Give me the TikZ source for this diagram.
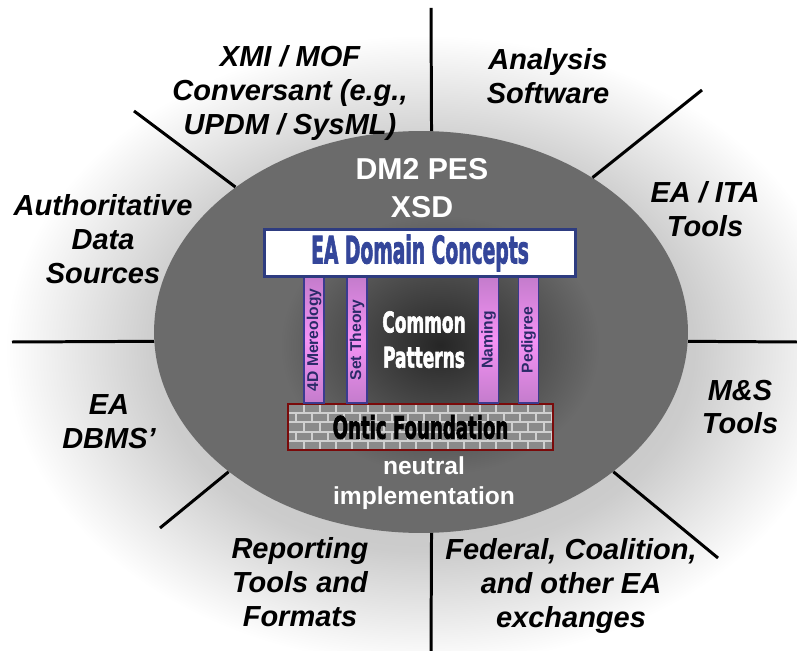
\documentclass[tikz,border=0pt]{standalone}
\usepackage{graphicx}
\usepackage{fontspec}
\setmainfont{Liberation Sans}
\newfontfamily\condfont{DejaVu Sans Condensed}[FakeBold=2.5]
\usepackage{tikz}
\usetikzlibrary{shapes.geometric,positioning,calc}

\definecolor{coregray}{HTML}{6B6B6B}
\definecolor{coredark}{HTML}{262626}
\definecolor{domainblue}{HTML}{2E3C80}
\definecolor{domaintext}{HTML}{34469A}
\definecolor{pillarpink}{HTML}{F592F5}
\definecolor{pillarmauve}{HTML}{C47CCC}
\definecolor{pillarline}{HTML}{3B3B8F}
\definecolor{pillartext}{HTML}{2A2A68}
\definecolor{onticred}{HTML}{7A0A0A}
\definecolor{brickgray}{HTML}{8A8A8A}
\definecolor{mortargray}{HTML}{D0D0D0}

\pgfdeclareradialshading{halo}{\pgfpoint{0bp}{0bp}}{color(0bp)=(gray!55); color(16bp)=(gray!40); color(25bp)=(white); color(50bp)=(white)}

\newcommand{\narrowtext}[3]{\scalebox{#1}[#2]{#3}}

\begin{document}
\begin{tikzpicture}[x=0.02cm, y=-0.02cm,
    spoke/.style={line width=1.7pt},
    outer/.style={align=center, font=\fontsize{16.5}{19.3}\selectfont\bfseries\itshape},
    core/.style={ellipse, fill=coregray, minimum width=10.68cm, minimum height=8.04cm, inner sep=0pt},
    coretext/.style={align=center, text=white, font=\bfseries\fontsize{17.2}{21.6}\selectfont},
    domainbox/.style={draw=domainblue, line width=1.7pt, fill=white, minimum width=6.22cm, minimum height=0.94cm, inner sep=0pt, text=domaintext, font=\condfont\bfseries\fontsize{16}{16}\selectfont},
    onticbox/.style={draw=onticred, line width=1.5pt, minimum width=5.3cm, minimum height=0.92cm, inner sep=0pt, font=\condfont\bfseries\fontsize{13.5}{13.5}\selectfont},
    pillar/.style={draw=pillarline, line width=0.6pt, minimum width=0.4cm, minimum height=2.52cm, inner sep=0pt, top color=pillarmauve, bottom color=pillarmauve, middle color=pillarpink, text=pillartext, font=\bfseries\fontsize{8.9}{8.9}\selectfont},
    mortar/.style={draw=mortargray, line width=1.2pt}]

    \useasboundingbox (0,0) rectangle (797,651);

    %glow
    \shade[shading=halo] (425,350) ellipse (420 and 315);

    %coordinates
    \coordinate (pTop)   at (431,8);
    \coordinate (pUR)    at (702,90);
    \coordinate (pRight) at (797,342);
    \coordinate (pLR)    at (718,558);
    \coordinate (pBot)   at (431,651);
    \coordinate (pLL)    at (160,528);
    \coordinate (pLeft)  at (12,342);
    \coordinate (pUL)    at (134,111);

    %nodes
    \node[core] (core) at (421,332) {};
    \shade[inner color=coredark, outer color=coregray] (440,345) ellipse (160 and 130);

    \node[coretext] (dm2) at (422,188) {DM2 PES\\XSD};

    \begin{scope}
        \clip (288,404) rectangle (553,450);
        \fill[brickgray] (288,404) rectangle (553,450);
        \foreach \r in {0,...,4} {
            \draw[mortar] (288,{404+\r*9.2}) -- ++(265,0);
            \foreach \c in {0,...,17}
                \draw[mortar] ({288+\c*16-mod(\r,2)*8},{404+\r*9.2}) -- ++(0,9.2);
        }
    \end{scope}
    \node[onticbox] (ontic) at (420.5,427) {\narrowtext{0.85}{1.3}{Ontic Foundation}};

    \node[pillar] (mereo)    at (314,340)   {\rotatebox{90}{4D Mereology}};
    \node[pillar] (settheo)  at (357,340)   {\rotatebox{90}{Set Theory}};
    \node[pillar] (naming)   at (488.5,340) {\rotatebox{90}{Naming}};
    \node[pillar] (pedigree) at (528.5,340) {\rotatebox{90}{Pedigree}};

    \node[domainbox] (domain) at (420,253) {\narrowtext{0.74}{1.35}{EA Domain Concepts}};

    \node[text=white, font=\condfont\bfseries\fontsize{12.5}{15.4}\selectfont] (common) at (424,343)
        {\narrowtext{0.86}{1.3}{\begin{tabular}{@{}c@{}}Common\\Patterns\end{tabular}}};

    \node[coretext, font=\bfseries\fontsize{14}{17}\selectfont] (neutral) at (424,483) {neutral\\implementation};

    \node[outer] (xmi)      at (290,93)  {XMI / MOF\\Conversant (e.g.,\\UPDM / SysML)};
    \node[outer] (analysis) at (548,76)  {Analysis\\Software};
    \node[outer] (eaita)    at (705,209) {EA / ITA\\Tools};
    \node[outer] (auth)     at (103,239) {Authoritative\\Data\\Sources};
    \node[outer] (dbms)     at (109,422) {EA\\DBMS’};
    \node[outer] (mstools)  at (740,407) {M\&S\\Tools};
    \node[outer] (report)   at (300,582) {Reporting\\Tools and\\Formats};
    \node[outer] (federal)  at (571,586) {Federal, Coalition,\\and other EA\\exchanges};

    %edges
    \draw[spoke] (core.87)  -- (pTop);
    \draw[spoke] (core.42)  -- (pUR);
    \draw[spoke] (core.358) -- (pRight);
    \draw[spoke] (core.324) -- (pLR);
    \draw[spoke] (core.273) -- (pBot);
    \draw[spoke] (core.216) -- (pLL);
    \draw[spoke] (core.182) -- (pLeft);
    \draw[spoke] (core.142) -- (pUL);
\end{tikzpicture}
\end{document}
